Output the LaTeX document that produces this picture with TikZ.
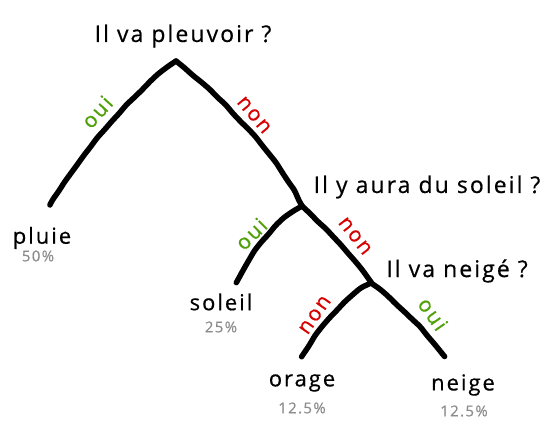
\documentclass[tikz,border=0pt]{standalone}
\usepackage{fontspec}
\setmainfont[LetterSpace=9,FakeBold=0.5]{Open Sans}
\usetikzlibrary{decorations.pathmorphing}
\begin{document}
\begin{tikzpicture}[x=1pt,y=-1pt,
  branch/.style={line width=5.5pt,line cap=round,line join=round,black,
    rounded corners=3pt,
    decorate,decoration={random steps,segment length=11pt,amplitude=0.6pt}},
  question/.style={font=\fontsize{23}{26}\selectfont,inner sep=0pt},
  leaf/.style={font=\fontsize{22}{26}\selectfont,inner sep=0pt},
  pct/.style={font=\fontsize{15}{18}\selectfont,text=pctgray,inner sep=0pt},
  yes/.style={font=\fontsize{21}{23}\selectfont,text=ouigreen,inner sep=0pt},
  no/.style={font=\fontsize{21}{23}\selectfont,text=nonred,inner sep=0pt}]
\pgfmathsetseed{7}
\definecolor{ouigreen}{RGB}{80,160,10}
\definecolor{nonred}{RGB}{215,0,0}
\definecolor{pctgray}{RGB}{140,140,140}
\useasboundingbox (0,0) rectangle (551,435);
\fill[white] (0,0) rectangle (551,435);
% junctions and ends
\coordinate (root) at (176,61);
\coordinate (j2) at (302,206);
\coordinate (j3) at (371,283);
\coordinate (plE) at (50,205);
\coordinate (soE) at (237,283);
\coordinate (orE) at (302,357);
\coordinate (neE) at (444,357);
% branches
\draw[branch] (root) .. controls (135,88) and (72,165) .. (plE);
\draw[branch] (root) .. controls (215,92) and (275,150) .. (j2);
\draw[branch] (j2) .. controls (280,218) and (250,250) .. (soE);
\draw[branch] (j2) .. controls (330,232) and (355,258) .. (j3);
\draw[branch] (j3) .. controls (352,292) and (320,325) .. (orE);
\draw[branch] (j3) .. controls (400,305) and (430,335) .. (neE);
% texts
\node[question] (q1) at (183,36) {Il va pleuvoir ?};
\node[question] (q2) at (427,187) {Il y aura du soleil ?};
\node[question] (q3) at (457,271) {Il va neigé ?};
\node[leaf] (pluie) at (42,238) {pluie};
\node[pct] (p1) at (38,256) {50\%};
\node[leaf] (soleil) at (221,302) {soleil};
\node[pct] (p2) at (221,327) {25\%};
\node[leaf] (orage) at (302,383) {orage};
\node[pct] (p3) at (302,408) {12.5\%};
\node[leaf] (neige) at (463,385) {neige};
\node[pct] (p4) at (464,411) {12.5\%};
% edge labels
\node[yes,rotate=48] (l1) at (97,112) {oui};
\node[no,rotate=-50] (l2) at (254,115) {non};
\node[yes,rotate=45] (l3) at (251,234) {oui};
\node[no,rotate=-52] (l4) at (355,236) {non};
\node[no,rotate=55] (l5) at (315,315) {non};
\node[yes,rotate=-55] (l6) at (433,314) {oui};
\end{tikzpicture}
\end{document}
